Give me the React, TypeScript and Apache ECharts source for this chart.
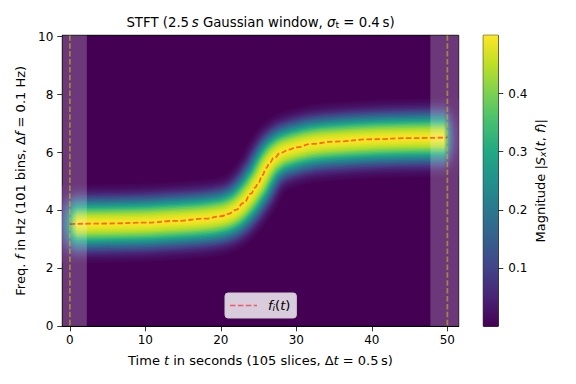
import React, { useEffect, useRef } from "react";
import * as echarts from "echarts";

// ---- data ----
const fiTime = [0, 5, 10, 14, 18, 20, 21, 22, 23, 24, 24.5, 25, 25.5, 26, 26.5, 27, 28, 29, 30, 32, 35, 40, 45, 50];
const fiFreq = [3.53, 3.55, 3.58, 3.64, 3.72, 3.8, 3.88, 4.02, 4.26, 4.58, 4.78, 4.97, 5.22, 5.46, 5.66, 5.81, 6.0, 6.1, 6.18, 6.3, 6.38, 6.46, 6.5, 6.52];
const edgeTimes = [0, 50];
const shadeStart = [-1, 47.75];
const shadeEnd = [2.25, 51.5];
const xTicks = [0, 10, 20, 30, 40, 50];
const yTicks = [0, 2, 4, 6, 8, 10];
const cbTicks = [0.1, 0.2, 0.3, 0.4];
// magnitude profile across the ridge (offset from f_i in Hz)
const bandOffsetHz = [0, 0.15, 0.3, 0.45, 0.6, 0.75, 0.9, 1.05, 1.2, 1.35];
const bandMag = [0.5, 0.48, 0.44, 0.37, 0.28, 0.19, 0.11, 0.05, 0.02, 0.004];
// magnitude attenuation at the signal edges
const edgeFadeT = [-1, -0.5, 0, 0.5, 1.0, 49.5, 50.0, 50.5, 51.0, 51.5];
const edgeFadeK = [0.2, 0.35, 0.55, 0.85, 1, 1, 0.55, 0.25, 0.1, 0.05];

const VIRIDIS = ["#440154", "#482475", "#414487", "#355f8d", "#2a788e", "#21918c", "#22a884", "#44bf70", "#7ad151", "#bddf26", "#fde725"];

const X_MIN = -1, X_MAX = 51.5, Y_MIN = 0, Y_MAX = 10.05, MAG_MAX = 0.5;
const GRID = { left: 62.3, top: 35.3, width: 396.4, height: 291 };
const CB = { left: 483.3, top: 35.3, width: 15, height: 291 };
const FONT = "DejaVu Sans";
const FS_TICK = 12;
const FS = 13;
const FS_TITLE = 13.3;
const BRUSH_SX = 0.6; // horizontal squeeze of the ridge brush

function hexToRgb(h: string) {
  return [parseInt(h.slice(1, 3), 16), parseInt(h.slice(3, 5), 16), parseInt(h.slice(5, 7), 16)];
}
function viridis(v: number) {
  const x = Math.max(0, Math.min(1, v));
  const n = VIRIDIS.length - 1;
  const p = x * n;
  const i = Math.min(Math.floor(p), n - 1);
  const f = p - i;
  const a = hexToRgb(VIRIDIS[i]);
  const b = hexToRgb(VIRIDIS[i + 1]);
  const c = a.map((av, k) => Math.round(av + (b[k] - av) * f));
  return `rgb(${c[0]},${c[1]},${c[2]})`;
}
function interp(xs: number[], ys: number[], x: number) {
  if (x <= xs[0]) return ys[0];
  for (let i = 1; i < xs.length; i++) {
    if (x <= xs[i]) {
      const f = (x - xs[i - 1]) / (xs[i] - xs[i - 1]);
      return ys[i - 1] + (ys[i] - ys[i - 1]) * f;
    }
  }
  return ys[ys.length - 1];
}

function makeRich(size: number) {
  const sub = size * 0.7;
  return {
    it: { fontFamily: FONT, fontSize: size, fontStyle: "italic", color: "#000" },
    n: { fontFamily: FONT, fontSize: size, color: "#000" },
    sub: { fontFamily: FONT, fontSize: sub, color: "#000", verticalAlign: "bottom", lineHeight: 12 },
    subit: { fontFamily: FONT, fontSize: sub, fontStyle: "italic", color: "#000", verticalAlign: "bottom", lineHeight: 12 },
  };
}
const rich = makeRich(FS);
const richTitle = makeRich(FS_TITLE);

const DASH = [5.5, 2.4];
const LEGEND_ICON = "path://M0,0h5.5v1.6h-5.5z M7.9,0h5.5v1.6h-5.5z M15.8,0h5.5v1.6h-5.5z M23.7,0h3.3v1.6h-3.3z";

export default function App() {
  const ref = useRef<HTMLDivElement>(null);
  useEffect(() => {
    if (!ref.current) return;
    const chart = echarts.init(ref.current, undefined, { renderer: "svg" });

    const fiData = fiTime.map((t, i) => [t, fiFreq[i]]);
    const bandT = [X_MIN, ...fiTime, X_MAX];
    const bandF = [fiFreq[0], ...fiFreq, fiFreq[fiFreq.length - 1]];
    const pxPerHz = GRID.height / (Y_MAX - Y_MIN);
    const step = 0.05;
    const maxOff = bandOffsetHz[bandOffsetHz.length - 1];
    const K = Math.round(maxOff / step);
    const gx0 = GRID.left / BRUSH_SX;
    const gx1 = (GRID.left + GRID.width) / BRUSH_SX;
    const layers: { width: number; stroke: any }[] = [];
    for (let k = K; k >= 1; k--) {
      const off = k * step;
      const mag = interp(bandOffsetHz, bandMag, off - step / 2);
      const stops = edgeFadeT.map((t, j) => ({
        offset: (t - X_MIN) / (X_MAX - X_MIN),
        color: viridis((mag * edgeFadeK[j]) / MAG_MAX),
      }));
      layers.push({
        width: 2 * off * pxPerHz,
        stroke: new echarts.graphic.LinearGradient(gx0, 0, gx1, 0, stops, true),
      });
    }

    const cbStops = VIRIDIS.map((c, i) => ({ offset: i / (VIRIDIS.length - 1), color: c }));

    const option: any = {
      animation: false,
      textStyle: { fontFamily: FONT },
      grid: [
        { left: GRID.left, top: GRID.top, width: GRID.width, height: GRID.height, show: true, backgroundColor: VIRIDIS[0], borderColor: "#000", borderWidth: 1 },
        { left: CB.left, top: CB.top, width: CB.width, height: CB.height, show: true, borderColor: "#000", borderWidth: 1 },
      ],
      graphic: [
        {
          type: "text",
          x: GRID.left + GRID.width / 2,
          y: 22,
          style: {
            text: "{n|STFT (2.5\u2009}{it|s}{n| Gaussian window, }{it|σ}{sub|t}{n| = 0.4\u2009s)}",
            rich: richTitle,
            align: "center",
            verticalAlign: "middle",
          },
        },
      ],
      legend: {
        data: [{ name: "fi", icon: LEGEND_ICON }],
        left: 225,
        top: 293,
        orient: "horizontal",
        padding: [6, 6, 6, 5],
        itemWidth: 27,
        itemHeight: 14,
        backgroundColor: "rgba(255,255,255,0.8)",
        borderColor: "#cccccc",
        borderWidth: 1,
        borderRadius: 3,
        formatter: () => "{it|f}{subit|i}{n|(}{it|t}{n|)}",
        textStyle: { fontFamily: FONT, fontSize: FS, padding: [0, 0, 0, 6], rich },
        selectedMode: false,
      },
      xAxis: [
        {
          type: "value",
          gridIndex: 0,
          min: X_MIN,
          max: X_MAX,
          splitLine: { show: false },
          axisLine: { show: true, onZero: false, lineStyle: { color: "#000", width: 1 } },
          axisTick: { show: true, length: 5, lineStyle: { color: "#000", width: 0.8 }, customValues: xTicks },
          axisLabel: { color: "#000", fontSize: FS_TICK, fontFamily: FONT, margin: 8, customValues: xTicks },
          name: "{n|Time }{it|t}{n| in seconds (105 slices, Δ}{it|t}{n| = 0.5\u2009s)}",
          nameLocation: "middle",
          nameGap: 28,
          nameTextStyle: { rich },
        },
        { type: "category", gridIndex: 1, data: ["cb"], show: false, boundaryGap: true },
      ],
      yAxis: [
        {
          type: "value",
          gridIndex: 0,
          min: Y_MIN,
          max: Y_MAX,
          splitLine: { show: false },
          axisLine: { show: true, onZero: false, lineStyle: { color: "#000", width: 1 } },
          axisTick: { show: true, length: 5, lineStyle: { color: "#000", width: 0.8 }, customValues: yTicks },
          axisLabel: { color: "#000", fontSize: FS_TICK, fontFamily: FONT, margin: 9, customValues: yTicks },
          name: "{n|Freq. }{it|f}{n| in Hz (101 bins, Δ}{it|f}{n| = 0.1 Hz)}",
          nameLocation: "middle",
          nameRotate: 90,
          nameGap: 31,
          nameTextStyle: { rich },
        },
        {
          type: "value",
          gridIndex: 1,
          min: 0,
          max: MAG_MAX,
          position: "right",
          splitLine: { show: false },
          axisLine: { show: false },
          axisTick: { show: true, length: 5, lineStyle: { color: "#000", width: 0.8 }, customValues: cbTicks },
          axisLabel: { color: "#000", fontSize: FS_TICK, fontFamily: FONT, margin: 10, customValues: cbTicks, formatter: (v: number) => v.toFixed(1) },
          name: "{n|Magnitude |}{it|S}{subit|x}{n|(}{it|t}{n|, }{it|f}{n|)|}",
          nameLocation: "middle",
          nameRotate: 90,
          nameGap: 36,
          nameTextStyle: { rich },
        },
      ],
      series: [
        {
          type: "custom",
          name: "ridge",
          coordinateSystem: "cartesian2d",
          xAxisIndex: 0,
          yAxisIndex: 0,
          data: [[X_MIN, Y_MIN]],
          clip: true,
          silent: true,
          z: 1,
          renderItem: (params: any, api: any) => {
            const pts = bandT.map((t, i) => {
              const p = api.coord([t, bandF[i]]);
              return [p[0] / BRUSH_SX, p[1]];
            });
            return {
              type: "group",
              scaleX: BRUSH_SX,
              children: layers.map((L) => ({
                type: "polyline",
                shape: { points: pts, smooth: 0.35 },
                style: { fill: "none", stroke: L.stroke, lineWidth: L.width, lineCap: "butt", lineJoin: "round" },
              })),
            };
          },
        },
        {
          type: "custom",
          name: "shade",
          coordinateSystem: "cartesian2d",
          xAxisIndex: 0,
          yAxisIndex: 0,
          data: shadeStart.map((s, i) => [s, shadeEnd[i]]),
          encode: { x: [0, 1] },
          clip: true,
          silent: true,
          z: 3,
          renderItem: (params: any, api: any) => {
            const p0 = api.coord([api.value(0), Y_MAX]);
            const p1 = api.coord([api.value(1), Y_MIN]);
            return {
              type: "rect",
              shape: { x: p0[0], y: p0[1], width: p1[0] - p0[0], height: p1[1] - p0[1] },
              style: { fill: "rgba(255,255,255,0.22)" },
            };
          },
        },
        {
          type: "custom",
          name: "edges",
          coordinateSystem: "cartesian2d",
          xAxisIndex: 0,
          yAxisIndex: 0,
          data: edgeTimes.map((t) => [t]),
          encode: { x: 0 },
          clip: true,
          silent: true,
          z: 4,
          renderItem: (params: any, api: any) => {
            const p0 = api.coord([api.value(0), Y_MAX]);
            const p1 = api.coord([api.value(0), Y_MIN]);
            return {
              type: "line",
              shape: { x1: p0[0], y1: p0[1], x2: p1[0], y2: p1[1] },
              style: { stroke: "rgba(200,190,20,0.6)", lineWidth: 1.7, lineDash: DASH },
            };
          },
        },
        {
          type: "line",
          name: "fi",
          data: fiData,
          smooth: 0.5,
          smoothMonotone: "x",
          symbol: "none",
          z: 5,
          silent: true,
          lineStyle: { color: "rgba(255,0,0,0.55)", width: 1.8, type: DASH },
          itemStyle: { color: "rgba(255,0,0,0.55)" },
        },
        {
          type: "bar",
          name: "colorbar",
          xAxisIndex: 1,
          yAxisIndex: 1,
          data: [MAG_MAX],
          barWidth: "100%",
          silent: true,
          itemStyle: { color: new echarts.graphic.LinearGradient(0, 1, 0, 0, cbStops) },
        },
      ],
    };
    chart.setOption(option);
    return () => chart.dispose();
  }, []);
  return <div ref={ref} style={{ position: "absolute", left: 0, top: 0, width: 576, height: 384 }} />;
}
